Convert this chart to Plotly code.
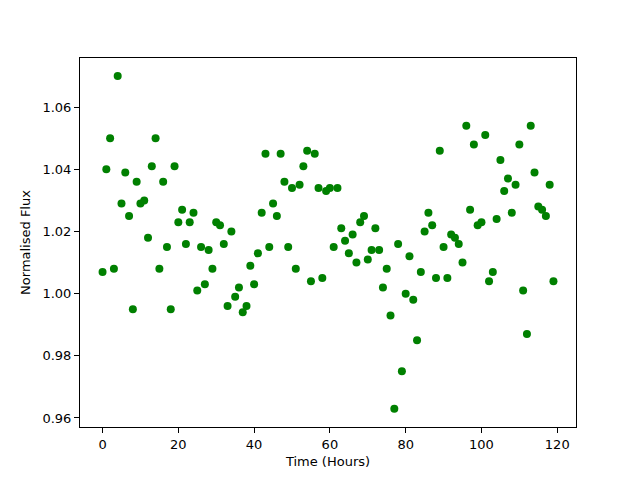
import plotly.graph_objects as go

hours = list(range(120))
flux = [
    1.007, 1.040, 1.050, 1.008, 1.070, 1.029, 1.039, 1.025, 0.995, 1.036,
    1.029, 1.030, 1.018, 1.041, 1.050, 1.008, 1.036, 1.015, 0.995, 1.041,
    1.023, 1.027, 1.016, 1.023, 1.026, 1.001, 1.015, 1.003, 1.014, 1.008,
    1.023, 1.022, 1.016, 0.996, 1.020, 0.999, 1.002, 0.994, 0.996, 1.009,
    1.003, 1.013, 1.026, 1.045, 1.015, 1.029, 1.025, 1.045, 1.036, 1.015,
    1.034, 1.008, 1.035, 1.041, 1.046, 1.004, 1.045, 1.034, 1.005, 1.033,
    1.034, 1.015, 1.034, 1.021, 1.017, 1.013, 1.019, 1.010, 1.023, 1.025,
    1.011, 1.014, 1.021, 1.014, 1.002, 1.008, 0.993, 0.963, 1.016, 0.975,
    1.000, 1.012, 0.998, 0.985, 1.007, 1.020, 1.026, 1.022, 1.005, 1.046,
    1.015, 1.005, 1.019, 1.018, 1.016, 1.010, 1.054, 1.027, 1.048, 1.022,
    1.023, 1.051, 1.004, 1.007, 1.024, 1.043, 1.033, 1.037, 1.026, 1.035,
    1.048, 1.001, 0.987, 1.054, 1.039, 1.028, 1.027, 1.025, 1.035, 1.004,
]
x_ticks = [0, 20, 40, 60, 80, 100, 120]
y_ticks = [0.96, 0.98, 1.00, 1.02, 1.04, 1.06]

fig = go.Figure(go.Scatter(
    x=hours, y=flux, mode="markers",
    marker=dict(color="#008000", size=8, line=dict(width=0)),
))

axis_common = dict(
    showgrid=False, zeroline=False, showline=True, linecolor="black", linewidth=1,
    mirror=True, ticks="outside", ticklen=5, tickwidth=1, tickcolor="black",
    automargin=False,
    tickfont=dict(family="DejaVu Sans", size=13, color="black"),
)
fig.update_xaxes(range=[-5.95, 124.95], tickvals=x_ticks,
                 ticktext=[str(v) for v in x_ticks],
                 title=dict(text="Time (Hours)", font=dict(family="DejaVu Sans", size=13, color="black"), standoff=6),
                 **axis_common)
fig.update_yaxes(range=[0.9571, 1.0758], tickvals=y_ticks,
                 ticktext=[f"{v:.2f}" for v in y_ticks],
                 title=dict(text="Normalised Flux", font=dict(family="DejaVu Sans", size=13, color="black"), standoff=8),
                 **axis_common)
fig.update_layout(
    width=640, height=480, plot_bgcolor="white", paper_bgcolor="white",
    margin=dict(l=72, r=72, t=50, b=61), showlegend=False,
)
fig.write_html("out.html")
